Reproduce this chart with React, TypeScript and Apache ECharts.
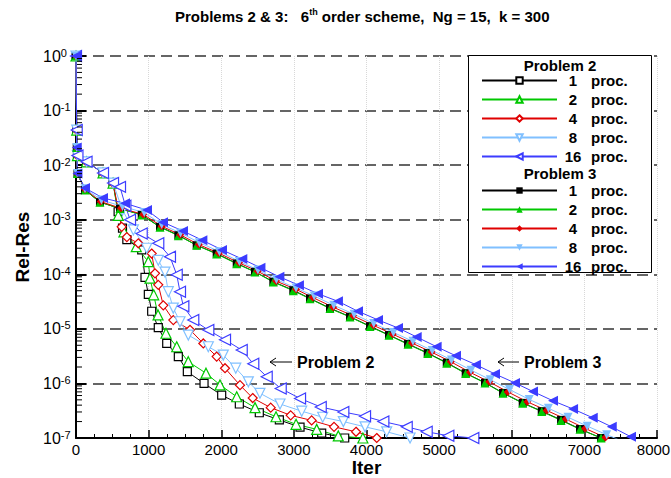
import React, { useEffect, useRef } from "react";
import * as echarts from "echarts";

const FONT = "Liberation Sans, Arial, Helvetica, sans-serif";

// ---------- Problem 2 (hollow markers) ----------
const p2_1: [number, number][] = [
  [0, 1], [10, 0.044], [20, 0.015], [145, 0.0115], [372, 0.0072], [510, 0.0047],
  [580, 1.4e-3], [640, 7e-4], [700, 4.3e-4], [905, 2.8e-4], [950, 8.8e-5], [996, 4.3e-5],
  [1042, 2.1e-5], [1133, 1.05e-5], [1249, 5.4e-6], [1409, 3.1e-6], [1533, 1.64e-6],
  [1763, 1.0e-6], [2006, 6.1e-7], [2249, 4.2e-7], [2524, 2.9e-7], [2800, 2.14e-7],
  [3085, 1.58e-7], [3383, 1.23e-7], [3700, 1.0e-7],
];
const p2_2: [number, number][] = [
  [0, 1], [10, 0.044], [20, 0.015], [145, 0.0115], [372, 0.0072], [510, 0.0047],
  [583, 1.2e-3], [660, 6e-4], [830, 3.2e-4], [996, 1.7e-4], [1019, 8.5e-5], [1070, 4.2e-5],
  [1130, 1.8e-5], [1239, 8.3e-6], [1387, 4.7e-6], [1546, 2.5e-6], [1790, 1.54e-6],
  [1983, 9.4e-7], [2213, 5.7e-7], [2465, 3.6e-7], [2754, 2.45e-7], [3030, 1.78e-7],
  [3314, 1.44e-7], [3612, 1.09e-7], [3950, 1.0e-7],
];
const p2_4: [number, number][] = [
  [0, 1], [10, 0.044], [20, 0.015], [145, 0.0115], [372, 0.0072], [510, 0.0047],
  [629, 7.4e-4], [700, 4.8e-4], [858, 3.7e-4], [1042, 2.4e-4], [1088, 1.04e-4], [1133, 6.4e-5],
  [1202, 2.7e-5], [1340, 1.45e-5], [1570, 9.6e-6], [1753, 5.4e-6], [1937, 3.1e-6],
  [2052, 1.9e-6], [2258, 9.3e-7], [2433, 5.4e-7], [2681, 3.6e-7], [2956, 2.6e-7],
  [3245, 2.1e-7], [3553, 1.6e-7], [3856, 1.3e-7], [4141, 1.0e-7],
];
const p2_8: [number, number][] = [
  [0, 1], [10, 0.044], [20, 0.015], [145, 0.0115], [372, 0.0072], [510, 0.0047],
  [640, 1.5e-3], [790, 6.5e-4], [974, 3.0e-4], [1133, 1.8e-4], [1225, 1.1e-4], [1271, 4.8e-5],
  [1340, 2.4e-5], [1432, 1.35e-5], [1546, 7.7e-6], [1822, 4.7e-6], [2028, 3.3e-6],
  [2200, 1.9e-6], [2373, 1.07e-6], [2533, 6.6e-7], [2809, 4.2e-7], [3108, 3.1e-7],
  [3397, 2.4e-7], [3681, 2.0e-7], [3980, 1.6e-7], [4278, 1.3e-7], [4600, 1.0e-7],
];
const p2_16: [number, number][] = [
  [0, 1], [10, 0.044], [20, 0.015], [145, 0.0115], [372, 0.0072], [510, 0.0047],
  [606, 4e-3], [680, 1.8e-3], [744, 1.0e-3], [905, 5.6e-4], [1133, 3.7e-4], [1294, 2.1e-4],
  [1387, 9.8e-5], [1432, 4.8e-5], [1478, 2.6e-5], [1615, 1.45e-5], [1822, 9.5e-6],
  [2052, 6.3e-6], [2282, 4.1e-6], [2441, 2.3e-6], [2626, 1.33e-6], [2819, 8.1e-7],
  [3085, 5.3e-7], [3370, 3.7e-7], [3681, 3.0e-7], [3980, 2.5e-7], [4232, 2.0e-7],
  [4554, 1.6e-7], [4829, 1.3e-7], [5127, 1.1e-7], [5471, 1.0e-7],
];

// ---------- Problem 3 (filled markers) ----------
const p3_1: [number, number][] = [
  [0, 1], [10, 0.021], [20, 0.007], [124, 3.5e-3], [330, 2.1e-3], [606, 1.6e-3], [905, 1.23e-3],
  [1157, 7.4e-4], [1409, 5.2e-4], [1662, 3.4e-4], [1937, 2.4e-4], [2213, 1.58e-4], [2465, 1.11e-4],
  [2717, 7.3e-5], [2992, 5.1e-5], [3222, 3.6e-5], [3497, 2.4e-5], [3773, 1.67e-5], [4048, 1.12e-5],
  [4310, 7.7e-6], [4572, 5.3e-6], [4843, 3.6e-6], [5105, 2.4e-6], [5366, 1.54e-6], [5632, 1.03e-6],
  [5880, 6.7e-7], [6151, 4.4e-7], [6413, 3.1e-7], [6679, 2.15e-7], [6940, 1.46e-7], [7230, 1.0e-7],
];
const p3_2: [number, number][] = [
  [0, 1], [10, 0.021], [20, 0.007], [124, 3.5e-3], [330, 2.1e-3], [606, 1.6e-3], [905, 1.22e-3],
  [1157, 7.3e-4], [1409, 5.1e-4], [1662, 3.4e-4], [1937, 2.35e-4], [2213, 1.56e-4], [2465, 1.1e-4],
  [2717, 7.2e-5], [2992, 5.0e-5], [3222, 3.55e-5], [3497, 2.35e-5], [3773, 1.65e-5], [4048, 1.1e-5],
  [4310, 7.6e-6], [4572, 5.2e-6], [4843, 3.55e-6], [5105, 2.35e-6], [5366, 1.52e-6], [5632, 1.02e-6],
  [5880, 6.6e-7], [6151, 4.35e-7], [6413, 3.05e-7], [6679, 2.1e-7], [6940, 1.44e-7], [7230, 1.0e-7],
];
const p3_4: [number, number][] = [
  [0, 1], [10, 0.021], [20, 0.007], [124, 3.6e-3], [340, 2.15e-3], [620, 1.62e-3], [925, 1.25e-3],
  [1180, 7.6e-4], [1435, 5.3e-4], [1690, 3.5e-4], [1965, 2.45e-4], [2245, 1.62e-4], [2500, 1.14e-4],
  [2755, 7.5e-5], [3030, 5.3e-5], [3260, 3.75e-5], [3540, 2.5e-5], [3815, 1.73e-5], [4095, 1.16e-5],
  [4360, 8.0e-6], [4625, 5.5e-6], [4895, 3.75e-6], [5160, 2.5e-6], [5425, 1.6e-6], [5690, 1.07e-6],
  [5945, 7.0e-7], [6215, 4.6e-7], [6480, 3.2e-7], [6745, 2.22e-7], [7010, 1.5e-7], [7290, 1.02e-7],
];
const p3_8: [number, number][] = [
  [0, 1], [10, 0.021], [20, 0.007], [124, 3.7e-3], [350, 2.3e-3], [640, 1.75e-3], [940, 1.35e-3],
  [1180, 8.2e-4], [1440, 5.7e-4], [1700, 3.8e-4], [1975, 2.6e-4], [2250, 1.72e-4], [2505, 1.2e-4],
  [2760, 8.0e-5], [3030, 5.6e-5], [3280, 4.0e-5], [3550, 2.7e-5], [3830, 1.85e-5], [4100, 1.25e-5],
  [4370, 8.6e-6], [4640, 5.9e-6], [4905, 4.0e-6], [5170, 2.7e-6], [5440, 1.75e-6], [5705, 1.17e-6],
  [5970, 7.7e-7], [6240, 5.1e-7], [6505, 3.5e-7], [6775, 2.4e-7], [7040, 1.65e-7], [7307, 1.15e-7],
  [7460, 0.95e-7],
];
const p3_16: [number, number][] = [
  [0, 1], [10, 0.021], [20, 0.007], [124, 3.8e-3], [372, 2.5e-3], [675, 2.0e-3], [978, 1.5e-3],
  [1198, 9.0e-4], [1473, 6.2e-4], [1740, 4.2e-4], [2010, 2.8e-4], [2290, 1.9e-4], [2540, 1.32e-4],
  [2800, 9.0e-5], [3070, 6.3e-5], [3332, 4.4e-5], [3607, 3.2e-5], [3883, 2.1e-5], [4158, 1.46e-5],
  [4434, 1.04e-5], [4691, 7.1e-6], [4966, 4.7e-6], [5232, 3.2e-6], [5507, 2.2e-6], [5769, 1.49e-6],
  [6045, 1.02e-6], [6293, 7.1e-7], [6568, 4.8e-7], [6844, 3.4e-7], [7115, 2.35e-7], [7377, 1.6e-7],
  [7642, 1.05e-7],
];

const procLabels = ["1", "2", "4", "8", "16"];
const colors = ["#000000", "#00c800", "#e00000", "#80c0ff", "#3c3cff"];
const symbols = ["rect", "triangle", "diamond", "triangle", "triangle"];
const rotations = [0, 0, 0, 180, 90];
const hollowSizes = [8, 10, 9, 10, 11];
const filledSizes = [8, 9, 8, 9, 10];
const p2Data = [p2_1, p2_2, p2_4, p2_8, p2_16];
const p3Data = [p3_1, p3_2, p3_4, p3_8, p3_16];
const p2Names = procLabels.map((p) => "P2 " + p);
const p3Names = procLabels.map((p) => "P3 " + p);

const xMin = 0;
const xMax = 8000;
const xInterval = 1000;
const yMinExp = -7;
const yMaxExp = 0;

export default function App() {
  const ref = useRef<HTMLDivElement>(null);

  useEffect(() => {
    if (!ref.current) return;
    document.body.style.margin = "0";
    const chart = echarts.init(ref.current, undefined, { renderer: "svg" });

    const labelOf: Record<string, string> = {};
    p2Names.forEach((n, i) => (labelOf[n] = procLabels[i]));
    p3Names.forEach((n, i) => (labelOf[n] = procLabels[i]));

    const lineSeries: any[] = [];
    p2Data.forEach((d, i) => {
      lineSeries.push({
        name: p2Names[i],
        type: "line",
        data: d,
        symbol: symbols[i],
        symbolRotate: rotations[i],
        symbolSize: hollowSizes[i],
        showAllSymbol: true,
        lineStyle: { color: colors[i], width: 1 },
        itemStyle: { color: "#ffffff", borderColor: colors[i], borderWidth: 1.2 },
        z: 2,
      });
    });
    p3Data.forEach((d, i) => {
      lineSeries.push({
        name: p3Names[i],
        type: "line",
        data: d,
        symbol: symbols[i],
        symbolRotate: rotations[i],
        symbolSize: filledSizes[i],
        showAllSymbol: true,
        lineStyle: { color: colors[i], width: 1 },
        itemStyle: { color: colors[i], borderColor: colors[i], borderWidth: 0 },
        z: 2,
      });
    });

    const yMinor: [number, number][] = [];
    for (let e = yMinExp; e < yMaxExp; e++) {
      for (let m = 2; m <= 9; m++) yMinor.push([0, m * Math.pow(10, e)]);
    }

    const legendBase = {
      orient: "vertical",
      left: 481,
      padding: 0,
      itemGap: 4,
      itemWidth: 75,
      itemHeight: 8,
      selectedMode: false,
      z: 20,
      formatter: (name: string) => `{n|${labelOf[name]}}{p|proc.}`,
      textStyle: {
        fontFamily: FONT,
        fontSize: 15,
        fontWeight: "bold",
        color: "#000",
        lineHeight: 14,
        rich: {
          n: { width: 22, align: "right", fontFamily: FONT, fontSize: 15, fontWeight: "bold", color: "#000" },
          p: { padding: [0, 0, 0, 7], fontFamily: FONT, fontSize: 15, fontWeight: "bold", color: "#000" },
        },
      },
    };

    const option: any = {
      animation: false,
      backgroundColor: "#ffffff",
      title: {
        left: 170,
        top: 2,
        text: "{a|Problems 2 & 3:   6}{s|th}{a| order scheme,  Ng = 15,  k = 300}",
        textStyle: {
          rich: {
            a: { fontFamily: FONT, fontSize: 15, fontWeight: "bold", color: "#000", lineHeight: 18 },
            s: { fontFamily: FONT, fontSize: 9, fontWeight: "bold", color: "#000", verticalAlign: "top", lineHeight: 10 },
          },
        },
      },
      grid: { left: 76, right: 14, top: 56, bottom: 40, containLabel: false, outerBoundsMode: "none" },
      xAxis: {
        type: "value",
        min: xMin,
        max: xMax,
        interval: xInterval,
        name: "Iter",
        nameLocation: "middle",
        nameGap: 20,
        nameMoveOverlap: false,
        nameTextStyle: { fontFamily: FONT, fontSize: 19, fontWeight: "bold", color: "#000" },
        axisLine: { show: true, onZero: false, lineStyle: { color: "#000", width: 2 } },
        axisTick: { show: true, inside: true, length: 8, lineStyle: { color: "#000", width: 1.5 } },
        minorTick: { show: true, splitNumber: 4, length: 4, lineStyle: { color: "#000", width: 1 } },
        axisLabel: {
          fontFamily: FONT,
          fontSize: 15,
          color: "#000",
          margin: 4,
          formatter: (v: number) => (v === xMax ? `{last|${v}}` : String(v)),
          rich: {
            last: { fontFamily: FONT, fontSize: 15, color: "#000", padding: [0, 7, 0, 0] },
          },
        },
        splitLine: { show: true, lineStyle: { color: "#d8d8d8", type: "dotted", width: 1 } },
      },
      yAxis: {
        type: "log",
        logBase: 10,
        min: Math.pow(10, yMinExp),
        max: Math.pow(10, yMaxExp),
        interval: 1,
        name: "Rel-Res",
        nameLocation: "middle",
        nameGap: 44,
        nameRotate: 90,
        nameMoveOverlap: false,
        nameTextStyle: { fontFamily: FONT, fontSize: 19, fontWeight: "bold", color: "#000" },
        axisLine: { show: true, onZero: false, lineStyle: { color: "#000", width: 2 } },
        axisTick: { show: true, inside: true, length: 10, lineStyle: { color: "#000", width: 2 } },
        minorTick: { show: false },
        axisLabel: {
          margin: 33,
          align: "left",
          formatter: (v: number) => `{b|10}{s|${Math.round(Math.log10(v))}}`,
          rich: {
            b: { fontFamily: FONT, fontSize: 16, color: "#000", lineHeight: 18 },
            s: { fontFamily: FONT, fontSize: 11, color: "#000", verticalAlign: "top", lineHeight: 10 },
          },
        },
        splitLine: { show: true, lineStyle: { color: "#333", type: [11, 6], width: 1.5 } },
      },
      legend: [
        { ...legendBase, top: 73, data: p2Names },
        { ...legendBase, top: 183, data: p3Names },
      ],
      graphic: [
        {
          type: "rect",
          left: 468,
          top: 55,
          shape: { width: 183, height: 217 },
          style: { fill: "#ffffff", stroke: "#000", lineWidth: 1 },
          z: 10,
        },
        {
          type: "text",
          x: 560,
          y: 65,
          style: { text: "Problem 2", font: `bold 15px ${FONT}`, fill: "#000", align: "center", verticalAlign: "middle" },
          z: 21,
        },
        {
          type: "text",
          x: 560,
          y: 173,
          style: { text: "Problem 3", font: `bold 15px ${FONT}`, fill: "#000", align: "center", verticalAlign: "middle" },
          z: 21,
        },
        { type: "line", shape: { x1: 270, y1: 362, x2: 292, y2: 362 }, style: { stroke: "#000", lineWidth: 1 }, z: 21 },
        { type: "polyline", shape: { points: [[276, 358], [270, 362], [276, 366]] }, style: { stroke: "#000", lineWidth: 1, fill: null }, z: 21 },
        {
          type: "text",
          x: 297,
          y: 362,
          style: { text: "Problem 2", font: `bold 16px ${FONT}`, fill: "#000", align: "left", verticalAlign: "middle" },
          z: 21,
        },
        { type: "line", shape: { x1: 498, y1: 362, x2: 519, y2: 362 }, style: { stroke: "#000", lineWidth: 1 }, z: 21 },
        { type: "polyline", shape: { points: [[504, 358], [498, 362], [504, 366]] }, style: { stroke: "#000", lineWidth: 1, fill: null }, z: 21 },
        {
          type: "text",
          x: 524,
          y: 362,
          style: { text: "Problem 3", font: `bold 16px ${FONT}`, fill: "#000", align: "left", verticalAlign: "middle" },
          z: 21,
        },
      ],
      series: [
        ...lineSeries,
        {
          name: "yMinorTicks",
          type: "custom",
          data: yMinor,
          silent: true,
          z: 5,
          renderItem: (params: any, api: any) => {
            const p = api.coord([api.value(0), api.value(1)]);
            return {
              type: "line",
              shape: { x1: p[0] + 1, y1: p[1], x2: p[0] + 6, y2: p[1] },
              style: { stroke: "#000", lineWidth: 1 },
            };
          },
        },
      ],
    };

    chart.setOption(option);
    return () => chart.dispose();
  }, []);

  return (
    <div
      ref={ref}
      style={{ position: "absolute", left: 0, top: 0, width: 671, height: 478 }}
    />
  );
}
